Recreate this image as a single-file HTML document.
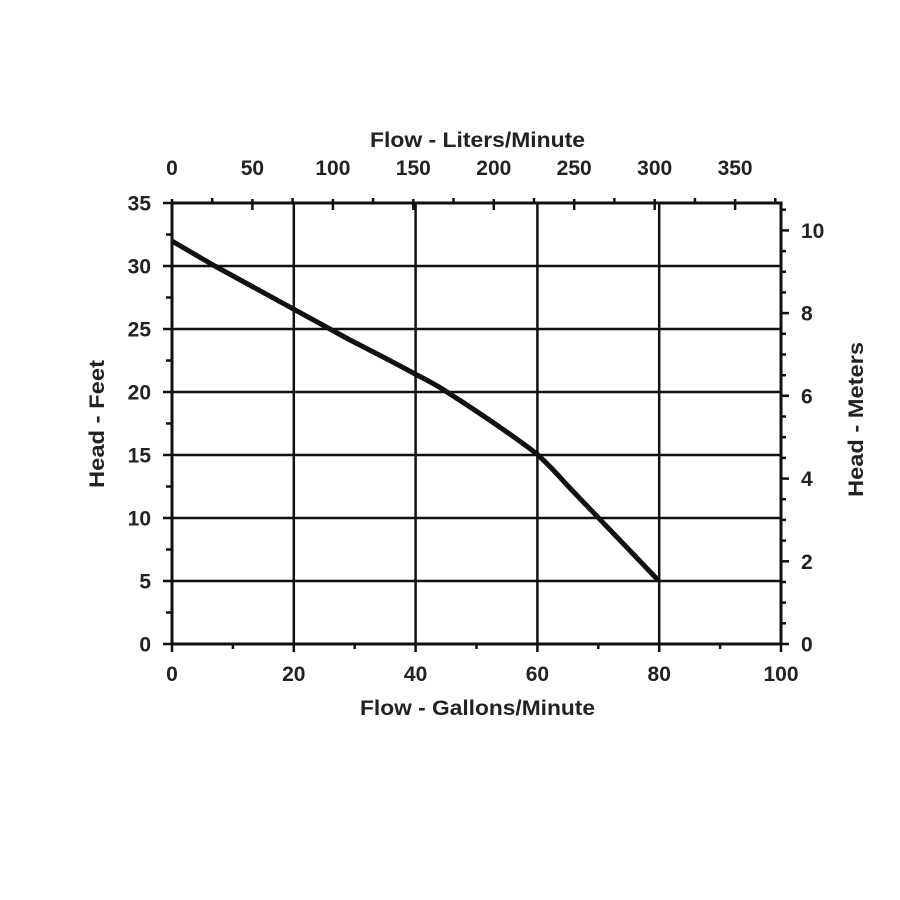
<!DOCTYPE html>
<html>
<head>
<meta charset="utf-8">
<style>
html,body{margin:0;padding:0;background:#fff;}
svg{display:block;}
text{font-family:"Liberation Sans",Arial,sans-serif;font-weight:bold;fill:#222;font-size:21px;}
</style>
</head>
<body>
<svg width="900" height="900" viewBox="0 0 900 900" xmlns="http://www.w3.org/2000/svg">
<rect width="900" height="900" fill="#fff"/>
<g stroke="#111" stroke-width="2.5" fill="none">
  <line x1="172" y1="581" x2="781" y2="581"/>
  <line x1="172" y1="518" x2="781" y2="518"/>
  <line x1="172" y1="455" x2="781" y2="455"/>
  <line x1="172" y1="392" x2="781" y2="392"/>
  <line x1="172" y1="329" x2="781" y2="329"/>
  <line x1="172" y1="266" x2="781" y2="266"/>
  <line x1="293.8" y1="203" x2="293.8" y2="652"/>
  <line x1="415.6" y1="203" x2="415.6" y2="652"/>
  <line x1="537.4" y1="203" x2="537.4" y2="652"/>
  <line x1="659.2" y1="203" x2="659.2" y2="652"/>
</g>
<rect x="172" y="203" width="609" height="441" fill="none" stroke="#111" stroke-width="3"/>
<g stroke="#111" stroke-width="2.5">
  <line x1="163" y1="644" x2="172" y2="644"/>
  <line x1="163" y1="581" x2="172" y2="581"/>
  <line x1="163" y1="518" x2="172" y2="518"/>
  <line x1="163" y1="455" x2="172" y2="455"/>
  <line x1="163" y1="392" x2="172" y2="392"/>
  <line x1="163" y1="329" x2="172" y2="329"/>
  <line x1="163" y1="266" x2="172" y2="266"/>
  <line x1="163" y1="203" x2="172" y2="203"/>
  <line x1="166" y1="612.5" x2="172" y2="612.5"/>
  <line x1="166" y1="549.5" x2="172" y2="549.5"/>
  <line x1="166" y1="486.5" x2="172" y2="486.5"/>
  <line x1="166" y1="423.5" x2="172" y2="423.5"/>
  <line x1="166" y1="360.5" x2="172" y2="360.5"/>
  <line x1="166" y1="297.5" x2="172" y2="297.5"/>
  <line x1="166" y1="234.5" x2="172" y2="234.5"/>
  <line x1="172" y1="644" x2="172" y2="652"/>
  <line x1="781" y1="644" x2="781" y2="652"/>
  <line x1="232.9" y1="644" x2="232.9" y2="649"/>
  <line x1="354.7" y1="644" x2="354.7" y2="649"/>
  <line x1="476.5" y1="644" x2="476.5" y2="649"/>
  <line x1="598.3" y1="644" x2="598.3" y2="649"/>
  <line x1="720.1" y1="644" x2="720.1" y2="649"/>
  <line x1="172" y1="199" x2="172" y2="210"/>
  <line x1="252.4" y1="199" x2="252.4" y2="210"/>
  <line x1="332.9" y1="199" x2="332.9" y2="210"/>
  <line x1="413.3" y1="199" x2="413.3" y2="210"/>
  <line x1="493.8" y1="199" x2="493.8" y2="210"/>
  <line x1="574.2" y1="199" x2="574.2" y2="210"/>
  <line x1="654.7" y1="199" x2="654.7" y2="210"/>
  <line x1="735.1" y1="199" x2="735.1" y2="210"/>
  <line x1="212.2" y1="198" x2="212.2" y2="203"/>
  <line x1="292.6" y1="198" x2="292.6" y2="203"/>
  <line x1="373.1" y1="198" x2="373.1" y2="203"/>
  <line x1="453.5" y1="198" x2="453.5" y2="203"/>
  <line x1="534.0" y1="198" x2="534.0" y2="203"/>
  <line x1="614.4" y1="198" x2="614.4" y2="203"/>
  <line x1="694.9" y1="198" x2="694.9" y2="203"/>
  <line x1="775.3" y1="198" x2="775.3" y2="203"/>
  <line x1="781" y1="644" x2="789" y2="644"/>
  <line x1="781" y1="623.3" x2="786" y2="623.3"/>
  <line x1="781" y1="602.6" x2="786" y2="602.6"/>
  <line x1="781" y1="582.0" x2="786" y2="582.0"/>
  <line x1="781" y1="561.3" x2="789" y2="561.3"/>
  <line x1="781" y1="540.6" x2="786" y2="540.6"/>
  <line x1="781" y1="519.9" x2="786" y2="519.9"/>
  <line x1="781" y1="499.2" x2="786" y2="499.2"/>
  <line x1="781" y1="478.6" x2="789" y2="478.6"/>
  <line x1="781" y1="457.9" x2="786" y2="457.9"/>
  <line x1="781" y1="437.2" x2="786" y2="437.2"/>
  <line x1="781" y1="416.5" x2="786" y2="416.5"/>
  <line x1="781" y1="395.8" x2="789" y2="395.8"/>
  <line x1="781" y1="375.2" x2="786" y2="375.2"/>
  <line x1="781" y1="354.5" x2="786" y2="354.5"/>
  <line x1="781" y1="333.8" x2="786" y2="333.8"/>
  <line x1="781" y1="313.1" x2="789" y2="313.1"/>
  <line x1="781" y1="292.4" x2="786" y2="292.4"/>
  <line x1="781" y1="271.8" x2="786" y2="271.8"/>
  <line x1="781" y1="251.1" x2="786" y2="251.1"/>
  <line x1="781" y1="230.4" x2="789" y2="230.4"/>
  <line x1="781" y1="209.7" x2="786" y2="209.7"/>
</g>
<path fill="none" stroke="#111" stroke-width="5" stroke-linejoin="round"
  d="M172,241 L213,265 Q293,309 350,340 Q395,363 415,374 Q435,384 447,392 Q500,426 537,454 Q552,468 567,485 L658,580"/>
<g text-anchor="end">
  <text x="151" y="651.5">0</text>
  <text x="151" y="588.5">5</text>
  <text x="151" y="525.5">10</text>
  <text x="151" y="462.5">15</text>
  <text x="151" y="399.5">20</text>
  <text x="151" y="336.5">25</text>
  <text x="151" y="273.5">30</text>
  <text x="151" y="210.5">35</text>
</g>
<g text-anchor="middle">
  <text x="172" y="681">0</text>
  <text x="293.8" y="681">20</text>
  <text x="415.6" y="681">40</text>
  <text x="537.4" y="681">60</text>
  <text x="659.2" y="681">80</text>
  <text x="781" y="681">100</text>
</g>
<g text-anchor="middle">
  <text x="172" y="175">0</text>
  <text x="252.4" y="175">50</text>
  <text x="332.9" y="175">100</text>
  <text x="413.3" y="175">150</text>
  <text x="493.8" y="175">200</text>
  <text x="574.2" y="175">250</text>
  <text x="654.7" y="175">300</text>
  <text x="735.1" y="175">350</text>
</g>
<g text-anchor="start">
  <text x="801" y="651.5">0</text>
  <text x="801" y="568.8">2</text>
  <text x="801" y="486.1">4</text>
  <text x="801" y="403.3">6</text>
  <text x="801" y="320.6">8</text>
  <text x="801" y="237.9">10</text>
</g>
<text x="370" y="147" textLength="215" lengthAdjust="spacingAndGlyphs">Flow - Liters/Minute</text>
<text x="360" y="715" textLength="235" lengthAdjust="spacingAndGlyphs">Flow - Gallons/Minute</text>
<text transform="translate(104,488) rotate(-90)" x="0" y="0" textLength="128" lengthAdjust="spacingAndGlyphs">Head - Feet</text>
<text transform="translate(863,497) rotate(-90)" x="0" y="0" textLength="155" lengthAdjust="spacingAndGlyphs">Head - Meters</text>
</svg>
</body>
</html>
